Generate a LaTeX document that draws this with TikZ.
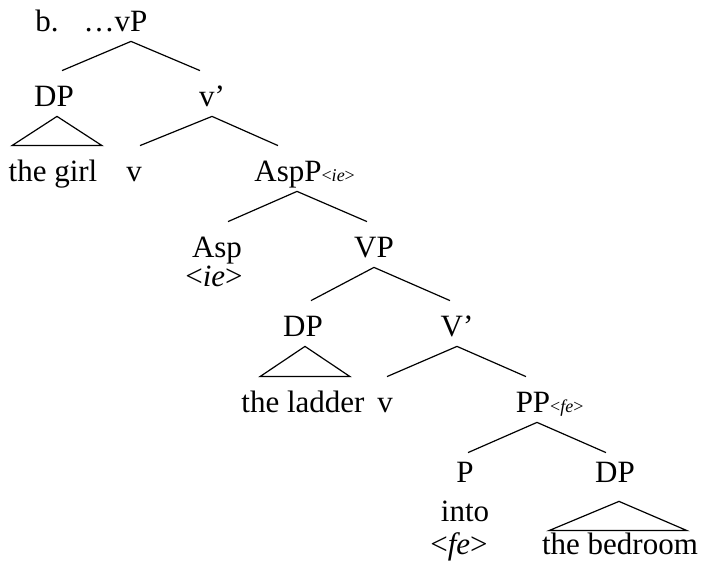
\documentclass[tikz,border=0pt]{standalone}
\usepackage{fontspec}
\setmainfont{Liberation Serif}

\begin{document}
\begin{tikzpicture}[x=0.5pt, y=-0.5pt,
    every node/.style={font=\fontsize{15.5}{18}\selectfont, inner sep=0pt, anchor=base},
    cat/.style={text height=18pt, text depth=4.5pt}]
  \useasboundingbox (0,0) rectangle (703,577);
  \draw
    (47,32) node (ex) {b.}
    (131,32) node[cat] (vP) {\llap{\ldots}vP}
    (54,107) node[cat] (DP1) {DP}
    (212,107) node[cat] (v1bar) {v'}
    (53,182) node[cat] (girl) {the girl}
    (134,182) node[cat] (v1) {v}
    (288,182) node[cat] (AspP) {AspP\rlap{\fontsize{9}{10}\selectfont<\textit{ie}>}}
    (217,258) node[cat] (Asp) {Asp}
    (214,287) node (ie) {<\textit{ie}>}
    (374,258) node[cat] (VP) {VP}
    (303,337) node[cat] (DP2) {DP}
    (457,337) node[cat] (Vbar) {V'}
    (303,413) node[cat] (ladder) {the ladder}
    (385,413) node[cat] (v2) {v}
    (533,413) node[cat] (PP) {PP\rlap{\fontsize{9}{10}\selectfont<\textit{fe}>}}
    (465,483) node[cat] (P) {P}
    (615,483) node[cat] (DP3) {DP}
    (465,522) node (into) {into}
    (459,555) node[cat] (fe) {<\textit{fe}>}
    (620,555) node[cat] (bedroom) {the bedroom};
  \begin{scope}[line width=0.6pt]
    \draw (vP.south) to ([xshift=4pt]DP1.north);
    \draw (vP.south) to ([xshift=-6pt]v1bar.north);
    \draw (v1bar.south) to ([xshift=3pt]v1.north);
    \draw (v1bar.south) to ([xshift=-5pt]AspP.north);
    \draw ([xshift=4.5pt]AspP.south) to ([xshift=5.5pt]Asp.north);
    \draw ([xshift=4.5pt]AspP.south) to ([xshift=-3.5pt]VP.north);
    \draw (VP.south) to ([xshift=4pt]DP2.north);
    \draw (VP.south) to ([xshift=-3.5pt]Vbar.north);
    \draw (Vbar.south) to ([xshift=1pt]v2.north);
    \draw (Vbar.south) to ([xshift=-3.5pt]PP.north);
    \draw ([xshift=2pt]PP.south) to ([xshift=1.5pt,yshift=-3pt]P.north);
    \draw ([xshift=2pt]PP.south) to ([xshift=-4.5pt,yshift=-3pt]DP3.north);
    % triangles
    \draw ([xshift=1.5pt]DP1.south) -- ([xshift=-20.5pt]girl.north) -- ([xshift=24.5pt]girl.north) -- cycle;
    \draw ([xshift=1pt]DP2.south) -- ([xshift=-21.5pt]ladder.north) -- ([xshift=23.5pt]ladder.north) -- cycle;
    \draw ([xshift=2pt,yshift=-4.5pt]DP3.south) -- ([xshift=-35.5pt,yshift=-6pt]bedroom.north) -- ([xshift=33.5pt,yshift=-6pt]bedroom.north) -- cycle;
  \end{scope}
\end{tikzpicture}
\end{document}
